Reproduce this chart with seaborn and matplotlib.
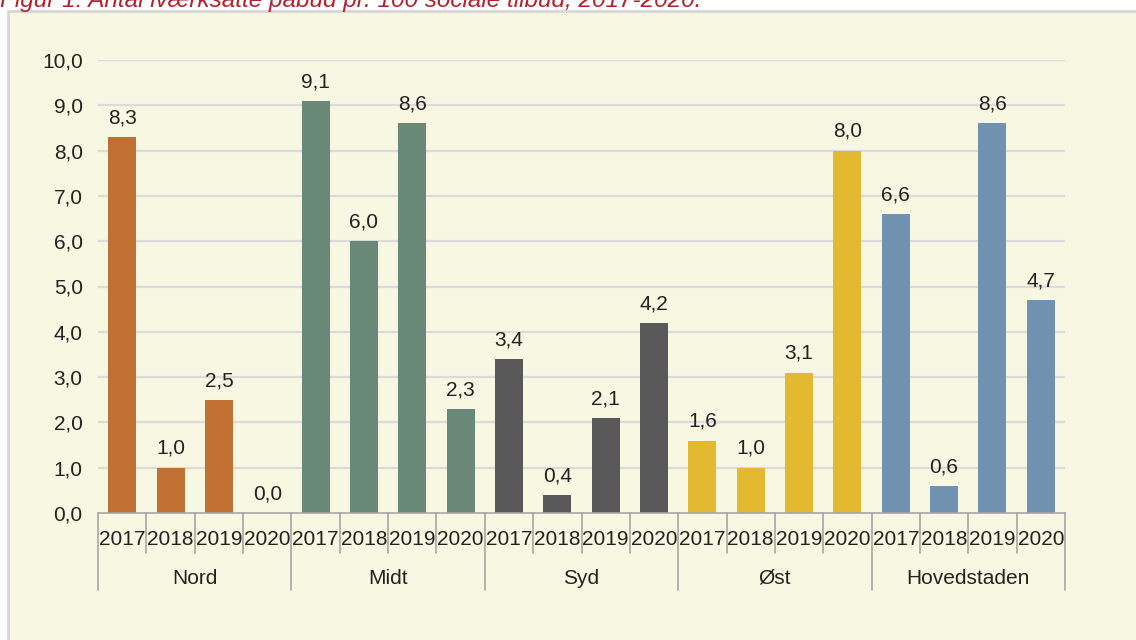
import pandas as pd
import numpy as np
import matplotlib.pyplot as plt
import seaborn as sns
from matplotlib.patches import Rectangle

regions = ['Nord', 'Midt', 'Syd', 'Øst', 'Hovedstaden']
years = ['2017', '2018', '2019', '2020']
nord = [8.3, 1.0, 2.5, 0.0]
midt = [9.1, 6.0, 8.6, 2.3]
syd = [3.4, 0.4, 2.1, 4.2]
oest = [1.6, 1.0, 3.1, 8.0]
hovedstaden = [6.6, 0.6, 8.6, 4.7]
colors = ['#C07032', '#6A8877', '#595959', '#E3B931', '#7191B0']

values = [nord, midt, syd, oest, hovedstaden]
rows = []
for r, vals in zip(regions, values):
    for y, v in zip(years, vals):
        rows.append({'key': f'{r} {y}', 'region': r, 'year': y, 'value': v})
df = pd.DataFrame(rows)

sns.set_style('white')
plt.rcParams['font.family'] = ['Liberation Sans', 'DejaVu Sans']

W, H = 1136, 640
fs = 15
fig = plt.figure(figsize=(W / 100, H / 100), dpi=100, facecolor='white')
fig.patches.append(Rectangle((8 / W, -0.05), 1, 1.05 - 11 / H, transform=fig.transFigure,
                             facecolor='#F8F7E1', edgecolor='#D6D6D6', lw=2, zorder=-5))
fig.text(0.0, 1 - 7 / H, 'Figur 1: Antal iværksatte påbud pr. 100 sociale tilbud, 2017-2020.',
         color='#B5202E', style='italic', fontsize=17.5, va='baseline', ha='left')

ax = fig.add_axes([98 / W, 1 - 513 / H, (1065 - 98) / W, (513 - 60) / H])
ax.set_facecolor('none')

sns.barplot(data=df, x='key', y='value', hue='region', order=df['key'], hue_order=regions,
            palette=colors, dodge=False, width=0.58, saturation=1, legend=False,
            linewidth=0, ax=ax)

ax.set_ylim(0, 10)
ax.set_xlim(-0.5, len(df) - 0.5)
ax.set_yticks(range(0, 11))
ax.set_yticklabels([f'{t},0' for t in range(0, 11)], fontsize=fs, color='#222222')
ax.tick_params(axis='y', length=0, pad=11)
ax.tick_params(axis='x', length=0, labelbottom=False)
ax.set_xlabel('')
ax.set_ylabel('')
for t in range(1, 11):
    ax.axhline(t, color='#DADADF', lw=1.6, zorder=0)
for s in ['top', 'right', 'left']:
    ax.spines[s].set_visible(False)
ax.spines['bottom'].set_color('#A6A6A6')
ax.spines['bottom'].set_linewidth(1.2)

for i, v in enumerate(df['value']):
    ax.annotate(f'{v:.1f}'.replace('.', ','), (i, v), xytext=(0, 7), textcoords='offset points',
                ha='center', va='bottom', fontsize=fs, color='#222222')

# year and region labels below the axis
tr = ax.get_xaxis_transform()
px = 513 - 60
for i, y in enumerate(df['year']):
    ax.text(i, -32 / px, y, transform=tr, ha='center', va='baseline', fontsize=fs, color='#222222')
for j in range(len(df) + 1):
    bottom = -77 / px if j % 4 == 0 else -40 / px
    ax.plot([j - 0.5, j - 0.5], [0, bottom], transform=tr, color='#A6A6A6', lw=1.2, clip_on=False)
for k, r in enumerate(regions):
    ax.text(4 * k + 1.5, -71 / px, r, transform=tr, ha='center', va='baseline', fontsize=fs, color='#222222')

fig.savefig('out.png', dpi=100, facecolor='white')
